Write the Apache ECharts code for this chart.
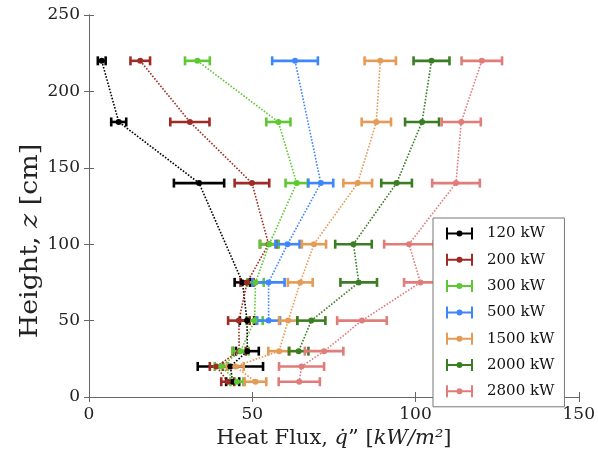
<!DOCTYPE html>
<html>
<head>
<meta charset="utf-8">
<script src="https://cdn.jsdelivr.net/npm/echarts@6/dist/echarts.min.js"></script>
<style>
  html, body { margin: 0; padding: 0; background: #fff; }
  #chart { width: 598px; height: 454px; }
</style>
</head>
<body>
<div id="chart"></div>
<script>
// heights (cm), heat flux (kW/m2) and error half-widths
const names = ['120 kW', '200 kW', '300 kW', '500 kW', '1500 kW', '2000 kW', '2800 kW']
const colors = ['#000000', '#9e2b25', '#5ec832', '#3d86fb', '#e59a55', '#3b7d23', '#e07c7a']

const h120 = [220, 180, 140, 75, 50, 30, 20, 10]
const q120 = [3.9, 9.1, 33.7, 47, 48.4, 48.5, 43.3, 44]
const e120 = [1.2, 2.3, 7.7, 2.4, 2.2, 3.5, 10, 2]

const h200 = [220, 180, 140, 100, 75, 50, 30, 20, 10]
const q200 = [15.7, 30.9, 49.9, 55, 48.4, 45.9, 46, 39, 42.5]
const e200 = [3, 6, 5.3, 2.6, 2, 3.3, 2, 2, 2]

const h300 = [220, 180, 140, 100, 75, 50, 30, 20, 10]
const q300 = [33.2, 58, 63.6, 55.2, 51, 50.7, 46.4, 40.5, 45.3]
const e300 = [3.8, 3.7, 3.4, 2.9, 2.5, 2.5, 2.5, 2, 2]

const h500 = [220, 140, 100, 75, 50]
const q500 = [63.1, 71, 60.8, 55, 55]
const e500 = [7, 3.8, 3.7, 4.9, 3.5]

const h1500 = [220, 180, 140, 100, 75, 50, 30, 20, 10]
const q1500 = [89.2, 88, 82.3, 68.9, 64.7, 61, 58.2, 44.8, 51]
const e1500 = [4.8, 4.5, 4.4, 3.7, 3.8, 2.8, 3.3, 2.6, 3.3]

const h2000 = [220, 180, 140, 100, 75, 50, 30]
const q2000 = [104.9, 102, 94.2, 81, 82.6, 68.1, 64.2]
const e2000 = [5.5, 5.2, 4.7, 5.6, 5.6, 4.3, 3]

const h2800 = [220, 180, 140, 100, 75, 50, 30, 20, 10]
const q2800 = [120.3, 114, 112.4, 98, 101.5, 83.6, 72, 65.1, 64.4]
const e2800 = [6.2, 6, 7.3, 7.6, 5, 7.6, 5.9, 6.9, 6.3]

const xTicks = [0, 50, 100, 150]
const yTicks = [0, 50, 100, 150, 200, 250]

const heights = [h120, h200, h300, h500, h1500, h2000, h2800]
const fluxes = [q120, q200, q300, q500, q1500, q2000, q2800]
const errors = [e120, e200, e300, e500, e1500, e2000, e2800]

const font = 'DejaVu Serif'
// error bar glyph for the legend: two caps, a bar and a dot (all clockwise so they fill)
const legendIcon = 'path://M0,0h2v12h-2z M2,5h23v2h-23z M25,0h2v12h-2z M10.5,6a3,3 0 1,1 6,0a3,3 0 1,1 -6,0z'

const renderErrorBar = (params, api) => {
  const lo = api.coord([api.value(0), api.value(2)])
  const hi = api.coord([api.value(1), api.value(2)])
  const cap = 4.5
  const style = { stroke: api.visual('color'), lineWidth: 2.6 }
  return {
    type: 'group',
    children: [
      { type: 'line', shape: { x1: lo[0], y1: lo[1], x2: hi[0], y2: hi[1] }, style },
      { type: 'line', shape: { x1: lo[0], y1: lo[1] - cap, x2: lo[0], y2: lo[1] + cap }, style },
      { type: 'line', shape: { x1: hi[0], y1: hi[1] - cap, x2: hi[0], y2: hi[1] + cap }, style }
    ]
  }
}

const series = []
names.forEach((name, i) => {
  series.push({
    name,
    type: 'custom',
    renderItem: renderErrorBar,
    itemStyle: { color: colors[i] },
    encode: { x: [0, 1], y: 2 },
    data: heights[i].map((h, k) => [fluxes[i][k] - errors[i][k], fluxes[i][k] + errors[i][k], h])
  })
  series.push({
    name,
    type: 'line',
    symbol: 'circle',
    symbolSize: 6,
    color: colors[i],
    lineStyle: { type: 'dotted', width: 1.6, color: colors[i] },
    itemStyle: { color: colors[i] },
    data: heights[i].map((h, k) => [fluxes[i][k], h])
  })
})

const axisLine = { show: true, lineStyle: { color: '#666', width: 1 } }
const axisTick = { show: true, inside: true, length: 5, lineStyle: { color: '#666' } }

const chart = echarts.init(document.getElementById('chart'))
chart.setOption({
  animation: false,
  backgroundColor: '#fff',
  grid: { left: 89, right: 15, top: 15, bottom: 57 },
  // y axis title sits a bit below the axis middle in the original
  graphic: [
    {
      type: 'text',
      x: 31,
      y: 241,
      rotation: Math.PI / 2,
      scaleX: 1.12,
      style: {
        text: 'Height, {i|z} [cm]',
        font: '24px "DejaVu Serif"',
        fill: '#222',
        align: 'center',
        verticalAlign: 'middle',
        rich: { i: { fontFamily: font, fontSize: 24, fontStyle: 'italic', fill: '#222' } }
      }
    }
  ],
  legend: {
    orient: 'vertical',
    left: 433,
    top: 218,
    padding: [8, 10, 8, 13],
    itemWidth: 27,
    itemHeight: 12,
    itemGap: 11.3,
    backgroundColor: '#fff',
    borderColor: '#777',
    borderWidth: 1,
    textStyle: { fontFamily: font, fontSize: 15, color: '#111', padding: [0, 0, 0, 9] },
    data: names.map(name => ({ name, icon: legendIcon }))
  },
  xAxis: [
    {
      type: 'value',
      min: xTicks[0],
      max: xTicks[xTicks.length - 1],
      interval: 50,
      axisLine,
      axisTick,
      splitLine: { show: false },
      axisLabel: { fontFamily: font, fontSize: 17, color: '#222', margin: 9 },
      name: 'Heat Flux, {i|q\u0307}\u201d [{i|kW/m\u00b2}]',
      nameLocation: 'middle',
      nameGap: 28,
      nameTextStyle: {
        fontFamily: font, fontSize: 21, color: '#222',
        rich: { i: { fontFamily: font, fontSize: 21, fontStyle: 'italic', color: '#222' } }
      }
    },
    {
      type: 'value',
      position: 'top',
      min: xTicks[0],
      max: xTicks[xTicks.length - 1],
      interval: 50,
      axisLine,
      axisTick,
      axisLabel: { show: false },
      splitLine: { show: false }
    }
  ],
  yAxis: [
    {
      type: 'value',
      min: yTicks[0],
      max: yTicks[yTicks.length - 1],
      interval: 50,
      axisLine,
      axisTick,
      splitLine: { show: false },
      axisLabel: { fontFamily: font, fontSize: 17, color: '#222', margin: 9 }
    },
    {
      type: 'value',
      position: 'right',
      min: yTicks[0],
      max: yTicks[yTicks.length - 1],
      interval: 50,
      axisLine,
      axisTick,
      axisLabel: { show: false },
      splitLine: { show: false }
    }
  ],
  series
})
</script>
</body>
</html>
